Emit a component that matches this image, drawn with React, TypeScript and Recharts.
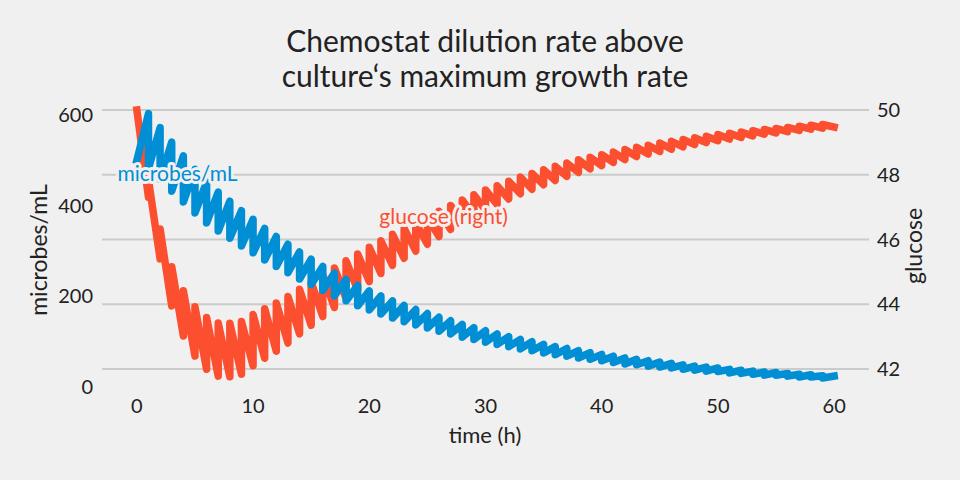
import { LineChart, Line, XAxis, YAxis, CartesianGrid, ReferenceDot } from 'recharts'

// microbes/mL right after each hourly pulse (t = 0..59) and just before it (t = 1..60)
const microbesAfterPulse = [
  500, 482, 458, 432, 408, 384, 362, 344, 328, 311,
  296, 280, 266, 252, 238, 226, 213, 201, 190, 179,
  170, 161, 152, 144, 137, 130, 123, 117, 110, 105,
  99, 94, 89, 84, 80, 75, 71, 68, 64, 61,
  58, 54, 51, 49, 46, 44, 42, 39, 37, 35,
  34, 31, 30, 28, 26, 26, 24, 22, 22, 20,
]
const microbesBeforePulse = [
  603, 572, 540, 510, 480, 452, 430, 410, 389, 370,
  350, 332, 315, 298, 282, 266, 251, 237, 224, 212,
  201, 190, 180, 171, 162, 154, 146, 138, 131, 124,
  117, 111, 105, 100, 94, 89, 85, 80, 76, 72,
  68, 64, 61, 58, 55, 52, 49, 46, 44, 42,
  39, 37, 35, 33, 32, 30, 28, 27, 25, 24,
]

// glucose, same timing
const glucoseAfterPulse = [
  50.0, 47.84, 46.32, 45.16, 44.42, 43.92, 43.59, 43.42, 43.41, 43.47,
  43.68, 43.86, 44.04, 44.24, 44.46, 44.68, 44.9, 45.12, 45.34, 45.55,
  45.76, 45.96, 46.16, 46.34, 46.51, 46.68, 46.87, 47.05, 47.22, 47.38,
  47.53, 47.66, 47.8, 47.93, 48.04, 48.15, 48.26, 48.36, 48.46, 48.54,
  48.62, 48.7, 48.78, 48.85, 48.91, 48.98, 49.03, 49.09, 49.14, 49.19,
  49.24, 49.28, 49.32, 49.36, 49.4, 49.43, 49.46, 49.5, 49.53, 49.55,
]
const glucoseBeforePulse = [
  47.3, 45.4, 43.95, 43.02, 42.4, 41.99, 41.78, 41.76, 41.84, 42.1,
  42.33, 42.55, 42.8, 43.08, 43.35, 43.62, 43.9, 44.18, 44.44, 44.7,
  44.95, 45.2, 45.42, 45.64, 45.85, 46.09, 46.31, 46.52, 46.72, 46.91,
  47.08, 47.25, 47.41, 47.55, 47.69, 47.82, 47.95, 48.07, 48.18, 48.28,
  48.38, 48.47, 48.56, 48.64, 48.72, 48.79, 48.86, 48.93, 48.99, 49.05,
  49.1, 49.15, 49.2, 49.25, 49.29, 49.33, 49.37, 49.41, 49.44, 49.47,
]

const timeTicks = [0, 10, 20, 30, 40, 50, 60]
const microbeTicks = [0, 200, 400, 600]
const glucoseTicks = [42, 44, 46, 48, 50]

const BLUE = '#008fd5'
const RED = '#fc4f30'
const BG = '#f0f0f0'
const FONT = 'Lato, "DejaVu Sans", sans-serif'

// two points per pulse hour so the jump is vertical
const data: { t: number; microbes: number; glucose: number }[] = []
for (let h = 0; h <= 60; h++) {
  if (h > 0) data.push({ t: h, microbes: microbesBeforePulse[h - 1], glucose: glucoseBeforePulse[h - 1] })
  if (h < 60) data.push({ t: h, microbes: microbesAfterPulse[h], glucose: glucoseAfterPulse[h] })
}

const inlineLabel = (text: string, color: string) => (props: any) => {
  const vb = props.viewBox || {}
  const cx = vb.x + (vb.width || 0) / 2
  const cy = vb.y + (vb.height || 0) / 2
  return (
    <text
      x={cx}
      y={cy}
      textAnchor="middle"
      dominantBaseline="central"
      fill={color}
      stroke={BG}
      strokeWidth={6}
      strokeLinejoin="round"
      paintOrder="stroke"
      fontSize={21}
      fontFamily={FONT}
    >
      {text}
    </text>
  )
}

// grid only at the glucose ticks, placed by the right axis scale
const glucoseGrid = (props: any) => {
  const s = props?.yAxis?.scale
  if (typeof s === 'function') return glucoseTicks.map((v) => s(v))
  if (s && typeof s.map === 'function') return glucoseTicks.map((v) => s.map(v))
  return []
}

const tickStyle = { fill: '#222', fontSize: 20, fontFamily: FONT }

export default function App() {
  return (
    <div style={{ position: 'absolute', left: 0, top: 0, width: 960, height: 480, background: BG }}>
      <LineChart
        width={960}
        height={480}
        data={data}
        margin={{ top: 97, right: 31, bottom: 29, left: 42 }}
      >
        <CartesianGrid
          yAxisId="right"
          vertical={false}
          stroke="#cbcbcb"
          strokeWidth={2}
          horizontalCoordinatesGenerator={glucoseGrid}
        />
        <XAxis
          dataKey="t"
          type="number"
          domain={[-3, 63]}
          ticks={timeTicks}
          axisLine={false}
          tickLine={false}
          tickSize={0}
          tickMargin={8}
          height={60}
          tick={tickStyle}
        />
        <YAxis
          yAxisId="left"
          type="number"
          domain={[-8.8, 639.7]}
          ticks={microbeTicks}
          axisLine={false}
          tickLine={false}
          tickSize={0}
          tickMargin={9}
          width={60}
          tick={tickStyle}
        />
        <YAxis
          yAxisId="right"
          orientation="right"
          type="number"
          domain={[41.32, 50.4]}
          ticks={glucoseTicks}
          axisLine={false}
          tickLine={false}
          tickSize={0}
          tickMargin={8}
          width={60}
          tick={tickStyle}
        />
        <Line
          yAxisId="right"
          dataKey="glucose"
          type="linear"
          stroke={RED}
          strokeWidth={7.5}
          strokeLinejoin="round"
          strokeLinecap="square"
          dot={false}
          isAnimationActive={false}
        />
        <Line
          yAxisId="left"
          dataKey="microbes"
          type="linear"
          stroke={BLUE}
          strokeWidth={7.5}
          strokeLinejoin="round"
          strokeLinecap="square"
          dot={false}
          isAnimationActive={false}
        />
        <ReferenceDot
          yAxisId="left"
          x={3.5}
          y={474}
          r={1}
          fill="none"
          stroke="none"
          label={{ content: inlineLabel('microbes/mL', BLUE) }}
        />
        <ReferenceDot
          yAxisId="right"
          x={26.4}
          y={46.73}
          r={1}
          fill="none"
          stroke="none"
          label={{ content: inlineLabel('glucose (right)', RED) }}
        />
      </LineChart>
      <svg
        width={960}
        height={480}
        style={{ position: 'absolute', left: 0, top: 0, pointerEvents: 'none' }}
        fontFamily={FONT}
        fill="#222"
      >
        <text x={485} y={52} textAnchor="middle" fontSize={30}>Chemostat dilution rate above</text>
        <text x={485} y={87} textAnchor="middle" fontSize={30}>culture‘s maximum growth rate</text>
        <text transform="translate(47,250) rotate(-90)" textAnchor="middle" fontSize={23}>microbes/mL</text>
        <text transform="translate(922,246) rotate(-90)" textAnchor="middle" fontSize={23}>glucose</text>
        <text x={485} y={443} textAnchor="middle" fontSize={22}>time (h)</text>
      </svg>
    </div>
  )
}
